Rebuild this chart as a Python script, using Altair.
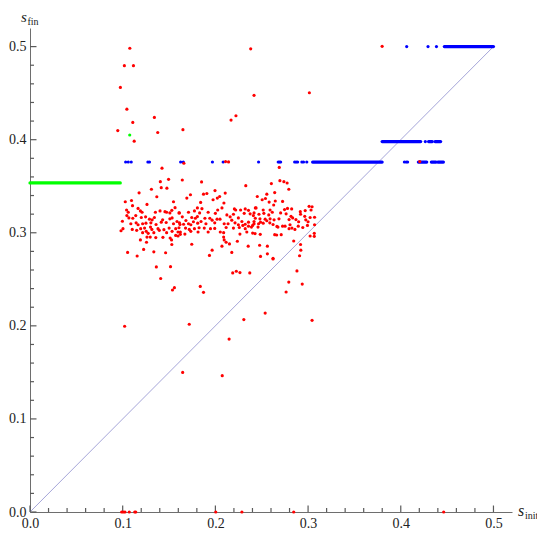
import altair as alt
import pandas as pd

# ---------------- data ----------------
major_ticks = [0.0, 0.1, 0.2, 0.3, 0.4, 0.5]
minor_ticks = [0.02, 0.04, 0.06, 0.08, 0.12, 0.14, 0.16, 0.18, 0.22, 0.24, 0.26, 0.28,
               0.32, 0.34, 0.36, 0.38, 0.42, 0.44, 0.46, 0.48]

# red scattered points: dense cluster (x, y)
red_cluster = [
    (0.1406, 0.3549), (0.1495, 0.3574), (0.1310, 0.3468), (0.1416, 0.3485), (0.1477, 0.3479),
    (0.1177, 0.3429), (0.1368, 0.3387), (0.1028, 0.3333), (0.1095, 0.3347), (0.1106, 0.3291),
    (0.1262, 0.3305), (0.1548, 0.3333), (0.1565, 0.3270), (0.1042, 0.3245), (0.1060, 0.3220),
    (0.1166, 0.3262), (0.1191, 0.3235), (0.1209, 0.3220), (0.1141, 0.3185), (0.1247, 0.3171),
    (0.1353, 0.3220), (0.1403, 0.3235), (0.1456, 0.3227), (0.1474, 0.3220), (0.1509, 0.3213),
    (0.1530, 0.3241), (0.1607, 0.3213), (0.1045, 0.3185), (0.1067, 0.3160), (0.1109, 0.3156),
    (0.1201, 0.3164), (0.1289, 0.3146), (0.1318, 0.3139), (0.1342, 0.3164), (0.1431, 0.3139),
    (0.1509, 0.3150), (0.1533, 0.3160), (0.1586, 0.3121), (0.0997, 0.3124), (0.1088, 0.3097),
    (0.1145, 0.3107), (0.1166, 0.3086), (0.1215, 0.3097), (0.1251, 0.3103), (0.1304, 0.3107),
    (0.1360, 0.3089), (0.1416, 0.3114), (0.1469, 0.3110), (0.1548, 0.3097), (0.1618, 0.3089),
    (0.1103, 0.3036), (0.1194, 0.3044), (0.1236, 0.3050), (0.1300, 0.3061), (0.1315, 0.3036),
    (0.1381, 0.3044), (0.1445, 0.3033), (0.1501, 0.3050), (0.1572, 0.3044), (0.0982, 0.3022),
    (0.1003, 0.3044), (0.1151, 0.3026), (0.1215, 0.3001), (0.1254, 0.3015), (0.1275, 0.2994),
    (0.1336, 0.3001), (0.1395, 0.3026), (0.1474, 0.3001), (0.1533, 0.3015), (0.1597, 0.3008),
    (0.1622, 0.2983), (0.1572, 0.2972), (0.1262, 0.2954), (0.1297, 0.2954), (0.1357, 0.2948),
    (0.1434, 0.2951), (0.1512, 0.2944), (0.1191, 0.2923), (0.1257, 0.2898), (0.1527, 0.2923),
    (0.1530, 0.2874), (0.1226, 0.2821), (0.1336, 0.2795), (0.1463, 0.2785), (0.1053, 0.2789),
    (0.1156, 0.2750),
    (0.1643, 0.3567), (0.1851, 0.3546), (0.2328, 0.3506), (0.1731, 0.3408), (0.1692, 0.3373),
    (0.1872, 0.3415), (0.1908, 0.3422), (0.1996, 0.3453), (0.2106, 0.3426), (0.2021, 0.3373),
    (0.1975, 0.3355), (0.2046, 0.3390), (0.1841, 0.3326), (0.2092, 0.3320), (0.1806, 0.3267),
    (0.1855, 0.3259), (0.2025, 0.3245), (0.2071, 0.3267), (0.1612, 0.3213), (0.1710, 0.3220),
    (0.1774, 0.3235), (0.1830, 0.3213), (0.1922, 0.3220), (0.2000, 0.3209), (0.2205, 0.3256),
    (0.2219, 0.3245), (0.2272, 0.3245), (0.2322, 0.3256), (0.2357, 0.3241), (0.2431, 0.3267),
    (0.2124, 0.3192), (0.2159, 0.3171), (0.2195, 0.3199), (0.2248, 0.3160), (0.2311, 0.3209),
    (0.2375, 0.3203), (0.2410, 0.3185), (0.1643, 0.3171), (0.1682, 0.3132), (0.1745, 0.3164),
    (0.1784, 0.3156), (0.1806, 0.3174), (0.1887, 0.3156), (0.1940, 0.3156), (0.1965, 0.3135),
    (0.2018, 0.3146), (0.2050, 0.3146), (0.2177, 0.3135), (0.2212, 0.3107), (0.2286, 0.3121),
    (0.2322, 0.3092), (0.2357, 0.3114), (0.2417, 0.3121), (0.1612, 0.3107), (0.1657, 0.3092),
    (0.1710, 0.3097), (0.1735, 0.3086), (0.1763, 0.3118), (0.1809, 0.3103), (0.1845, 0.3121),
    (0.1898, 0.3097), (0.1993, 0.3107), (0.2095, 0.3097), (0.2137, 0.3097), (0.2248, 0.3086),
    (0.2296, 0.3079), (0.2357, 0.3071), (0.2402, 0.3079), (0.1607, 0.3054), (0.1678, 0.3050),
    (0.1718, 0.3036), (0.1774, 0.3044), (0.1824, 0.3054), (0.1880, 0.3050), (0.1947, 0.3044),
    (0.1993, 0.3047), (0.2116, 0.3057), (0.2195, 0.3050), (0.2258, 0.3057), (0.2322, 0.3044),
    (0.2389, 0.3061), (0.1622, 0.3008), (0.1671, 0.2986), (0.1735, 0.3015), (0.1813, 0.3008),
    (0.1922, 0.3008), (0.2053, 0.3008), (0.2089, 0.3001), (0.2265, 0.2986), (0.2339, 0.3008),
    (0.2402, 0.2997), (0.1597, 0.2965), (0.2089, 0.2954), (0.2095, 0.2923), (0.2237, 0.2909),
    (0.2116, 0.2898), (0.2152, 0.2880), (0.1745, 0.2877), (0.2071, 0.2856), (0.2354, 0.2856),
    (0.1965, 0.2813), (0.2177, 0.2789), (0.1936, 0.2757),
    (0.2604, 0.3528), (0.2696, 0.3560), (0.2739, 0.3549), (0.2774, 0.3535), (0.2792, 0.3468),
    (0.2640, 0.3432), (0.2452, 0.3390), (0.2555, 0.3415), (0.2505, 0.3355), (0.2540, 0.3368),
    (0.2580, 0.3330), (0.2646, 0.3341), (0.2725, 0.3337), (0.2439, 0.3267), (0.2516, 0.3245),
    (0.2590, 0.3245), (0.2629, 0.3298), (0.2746, 0.3249), (0.2778, 0.3262), (0.2823, 0.3256),
    (0.2916, 0.3227), (0.2969, 0.3238), (0.3011, 0.3284), (0.3043, 0.3280), (0.3032, 0.3245),
    (0.2417, 0.3213), (0.2470, 0.3199), (0.2523, 0.3209), (0.2576, 0.3192), (0.2614, 0.3220),
    (0.2704, 0.3213), (0.2763, 0.3203), (0.2816, 0.3177), (0.2834, 0.3160), (0.2919, 0.3199),
    (0.2964, 0.3177), (0.3022, 0.3164), (0.3070, 0.3167), (0.2431, 0.3156), (0.2481, 0.3150),
    (0.2537, 0.3146), (0.2555, 0.3129), (0.2590, 0.3150), (0.2633, 0.3139), (0.2686, 0.3150),
    (0.2795, 0.3142), (0.2869, 0.3142), (0.2898, 0.3118), (0.2975, 0.3139), (0.3000, 0.3118),
    (0.2417, 0.3097), (0.2466, 0.3097), (0.2487, 0.3114), (0.2516, 0.3103), (0.2587, 0.3107),
    (0.2622, 0.3089), (0.2664, 0.3068), (0.2725, 0.3071), (0.2752, 0.3071), (0.2805, 0.3086),
    (0.2826, 0.3050), (0.2894, 0.3071), (0.2943, 0.3057), (0.2993, 0.3079), (0.3070, 0.3086),
    (0.2460, 0.3061), (0.2675, 0.3061), (0.2795, 0.3044), (0.2858, 0.3036), (0.2428, 0.2991),
    (0.2484, 0.2983), (0.2640, 0.2980), (0.2661, 0.2976), (0.2710, 0.2980), (0.3067, 0.2994),
    (0.3022, 0.2965), (0.3067, 0.2962), (0.2845, 0.2912), (0.2477, 0.2866), (0.2561, 0.2856),
    (0.2919, 0.2874), (0.2922, 0.2813), (0.2487, 0.2746), (0.2561, 0.2774), (0.2908, 0.2753),
    (0.2622, 0.2725),
]

# red points below the cluster
red_low = [
    (0.1363, 0.2633), (0.1516, 0.2636), (0.1410, 0.2509), (0.1558, 0.2410), (0.1537, 0.2385),
    (0.1837, 0.2424), (0.1872, 0.2360), (0.1021, 0.1996), (0.1718, 0.2017), (0.1647, 0.1500),
    (0.2622, 0.2718), (0.2187, 0.2569), (0.2226, 0.2587), (0.2265, 0.2572), (0.2371, 0.2569),
    (0.2880, 0.2590), (0.2792, 0.2470), (0.2937, 0.2449), (0.2763, 0.2364), (0.2537, 0.2137),
    (0.2307, 0.2067), (0.3043, 0.2059), (0.2148, 0.1858), (0.2074, 0.1465),
]

# red points above the cluster
red_high = [
    (0.1077, 0.4982), (0.1018, 0.4795), (0.1116, 0.4795), (0.0975, 0.4562), (0.1045, 0.4328),
    (0.1109, 0.4186), (0.0947, 0.4098), (0.1124, 0.3984), (0.1342, 0.4239), (0.1378, 0.4077),
    (0.1650, 0.4108), (0.2381, 0.4976), (0.2417, 0.4477), (0.2169, 0.4211), (0.2222, 0.4257),
    (0.1424, 0.3694), (0.1660, 0.3747), (0.2689, 0.3702), (0.2110, 0.3765), (0.2142, 0.3761),
    (0.3014, 0.4504), (0.3799, 0.5003), (0.4205, 0.3765),
]

# red points lying on s_fin = 0
red_zero_x = [0.0989, 0.1007, 0.1024, 0.1071, 0.1130, 0.1141, 0.2004, 0.2286, 0.2845, 0.4463]

# blue isolated points (x, y)
blue_pts = [
    (0.1032, 0.376), (0.1060, 0.376), (0.1092, 0.376), (0.1272, 0.376), (0.1289, 0.376),
    (0.1625, 0.376), (0.1654, 0.376), (0.1968, 0.376), (0.2084, 0.376), (0.2466, 0.376),
    (0.2678, 0.376), (0.2691, 0.376), (0.2704, 0.376), (0.2855, 0.376), (0.2871, 0.376),
    (0.2887, 0.376), (0.2933, 0.376), (0.2951, 0.376), (0.2986, 0.376),
    (0.4039, 0.376), (0.4059, 0.376), (0.4074, 0.376),
    (0.4265, 0.398),
    (0.4064, 0.500), (0.4294, 0.500), (0.4385, 0.500),
]
# blue dense runs (x start, x end, y)
blue_runs = [
    (0.3049, 0.3799, 0.376),
    (0.4190, 0.4280, 0.376), (0.4330, 0.4380, 0.376), (0.4400, 0.4460, 0.376),
    (0.3799, 0.4215, 0.398), (0.4300, 0.4340, 0.398), (0.4370, 0.4430, 0.398),
    (0.4470, 0.5000, 0.500),
]

# green
green_runs = [(0.0, 0.0974, 0.3535)]
green_pts = [(0.1076, 0.405)]

# diagonal s_fin = s_init
diag = [(0.0, 0.0, 0.5, 0.5)]

# ---------------- chart ----------------
W, H = 482, 484
XMAX, YMAX = 0.52, 0.52
FONT = "Liberation Serif"
AXC = "#6e6e6e"
TICKC = "#5a5a5a"

xs = alt.Scale(domain=[0, XMAX], nice=False, zero=False)
ys = alt.Scale(domain=[0, YMAX], nice=False, zero=False)

x_axis = alt.Axis(values=major_ticks, format=".1f", ticks=False, grid=False, title=None,
                  domainColor=AXC, domainWidth=1, labelFont=FONT, labelFontSize=14,
                  labelColor="#222", labelPadding=4, labelFlush=False)
y_axis = alt.Axis(values=major_ticks, format=".1f", ticks=False, grid=False, title=None,
                  domainColor=AXC, domainWidth=1, labelFont=FONT, labelFontSize=14,
                  labelColor="#222", labelPadding=4, labelFlush=False)


def X(field):
    return alt.X(field, scale=xs, axis=x_axis)


def Y(field):
    return alt.Y(field, scale=ys, axis=y_axis)


def pts_df(pairs):
    return pd.DataFrame(pairs, columns=["x", "y"])


red_all = pts_df(red_cluster + red_low + red_high + [(v, 0.0) for v in red_zero_x])

diag_df = pd.DataFrame(diag, columns=["x", "y", "x2", "y2"])
diag_layer = alt.Chart(diag_df).mark_rule(color="#a5a5d8", strokeWidth=1).encode(
    x=X("x:Q"), y=Y("y:Q"), x2="x2:Q", y2="y2:Q")

# inward tick marks: lengths in pixels, converted to scale units
MAJ_PX, MIN_PX = 6.5, 4.0
n_maj, n_min = len(major_ticks), len(minor_ticks)
tick_df = pd.DataFrame({
    "v": major_ticks + minor_ticks,
    "a": [0.0] * (n_maj + n_min),
    "ly": [MAJ_PX * YMAX / H] * n_maj + [MIN_PX * YMAX / H] * n_min,
    "lx": [MAJ_PX * XMAX / W] * n_maj + [MIN_PX * XMAX / W] * n_min,
})

x_ticks = alt.Chart(tick_df).mark_rule(color=TICKC, strokeWidth=1.2).encode(
    x=X("v:Q"), y=Y("a:Q"), y2="ly:Q")
y_ticks = alt.Chart(tick_df).mark_rule(color=TICKC, strokeWidth=1.2).encode(
    y=Y("v:Q"), x=X("a:Q"), x2="lx:Q")


def runs_layer(runs, color):
    df = pd.DataFrame(runs, columns=["x", "x2", "y"])
    return alt.Chart(df).mark_rule(color=color, strokeWidth=3.2, strokeCap="round").encode(
        x=X("x:Q"), x2="x2:Q", y=Y("y:Q"))


def pts_layer(df, color):
    return alt.Chart(df).mark_circle(color=color, size=10, opacity=1).encode(
        x=X("x:Q"), y=Y("y:Q"))


blue_r = runs_layer(blue_runs, "#0000ff")
blue_p = pts_layer(pts_df(blue_pts), "#0000ff")
green_r = runs_layer(green_runs, "#00ff00")
green_p = pts_layer(pts_df(green_pts), "#00ff00")
red_p = pts_layer(red_all, "#ff0000")


def label(text, x, y, size, italic):
    return alt.Chart(pd.DataFrame({"t": [text]})).mark_text(
        font=FONT, fontSize=size, fontStyle="italic" if italic else "normal",
        align="left", baseline="alphabetic", color="#222").encode(
        text="t:N", x=alt.value(x), y=alt.value(y))


lbl_sinit = label("s", W + 6, H + 4, 16, True)
lbl_sinit_sub = label("init", W + 13, H + 7, 10, False)
lbl_sfin = label("s", -9, -6, 15, True)
lbl_sfin_sub = label("fin", -2.5, -3.5, 10, False)

chart = alt.layer(
    diag_layer, x_ticks, y_ticks,
    blue_r, blue_p, green_r, green_p, red_p,
    lbl_sinit, lbl_sinit_sub, lbl_sfin, lbl_sfin_sub,
).properties(
    width=W, height=H,
    autosize=alt.AutoSizeParams(type="none"),
    padding={"left": 22, "top": 20, "right": 25, "bottom": 19},
    background="white",
).configure_view(stroke=None)

chart.save("out.html", embed_options={"renderer": "svg", "actions": False})
